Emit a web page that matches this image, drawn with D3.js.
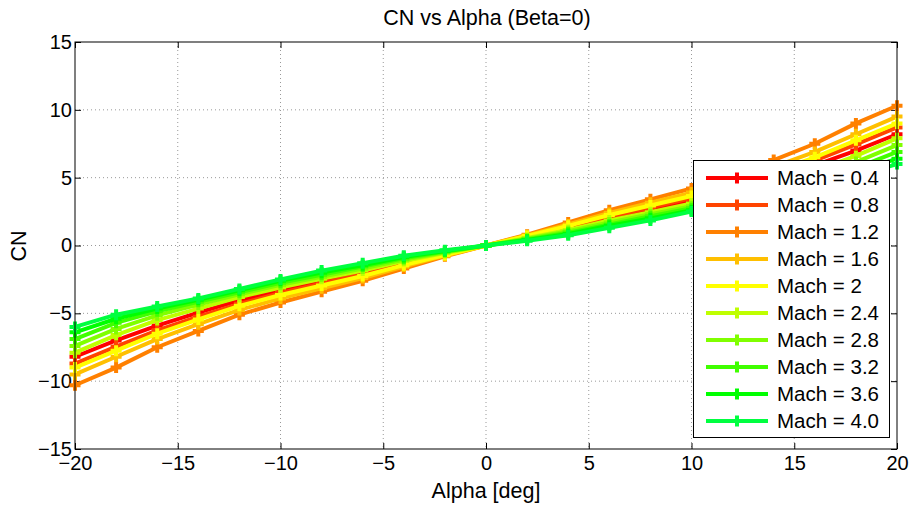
<!DOCTYPE html>
<html><head><meta charset="utf-8">
<script src="https://cdn.jsdelivr.net/npm/d3@7"></script>
<style>body{margin:0;background:#fff}svg{display:block}text{font-family:"Liberation Sans",Arial,sans-serif}</style>
</head><body><svg id="c" width="914" height="506"></svg>
<script>
const alpha = [-20,-18,-16,-14,-12,-10,-8,-6,-4,-2,0,2,4,6,8,10,12,14,16,18,20];
const machLabels = ["Mach = 0.4","Mach = 0.8","Mach = 1.2","Mach = 1.6","Mach = 2","Mach = 2.4","Mach = 2.8","Mach = 3.2","Mach = 3.6","Mach = 4.0"];
const colors = ["#ff0000","#ff4400","#ff8000","#ffbf00","#ffff00","#bfff00","#80ff00","#40ff00","#00ff00","#00ff40"];
const cn04 = [-8.2,-7.0,-5.9,-4.95,-4.05,-3.3,-2.65,-2.0,-1.3,-0.6,0,0.6,1.3,2.0,2.65,3.3,4.05,4.95,5.9,7.0,8.2];
const cn08 = [-8.7,-7.45,-6.25,-5.25,-4.3,-3.5,-2.8,-2.1,-1.35,-0.65,0,0.65,1.35,2.1,2.8,3.5,4.3,5.25,6.25,7.45,8.7];
const cn12 = [-10.3,-9.0,-7.5,-6.3,-5.1,-4.2,-3.4,-2.6,-1.7,-0.8,0,0.8,1.7,2.6,3.4,4.2,5.1,6.3,7.5,9.0,10.3];
const cn16 = [-9.5,-8.2,-6.9,-5.8,-4.75,-3.9,-3.15,-2.4,-1.55,-0.75,0,0.75,1.55,2.4,3.15,3.9,4.75,5.8,6.9,8.2,9.5];
const cn20 = [-9.0,-7.75,-6.5,-5.45,-4.45,-3.65,-2.95,-2.25,-1.45,-0.7,0,0.7,1.45,2.25,2.95,3.65,4.45,5.45,6.5,7.75,9.0];
const cn24 = [-7.9,-6.6,-5.5,-4.65,-3.8,-3.1,-2.45,-1.85,-1.15,-0.55,0,0.55,1.15,1.85,2.45,3.1,3.8,4.65,5.5,6.6,7.9];
const cn28 = [-7.4,-6.15,-5.15,-4.35,-3.6,-2.9,-2.3,-1.7,-1.05,-0.5,0,0.5,1.05,1.7,2.3,2.9,3.6,4.35,5.15,6.15,7.4];
const cn32 = [-6.9,-5.7,-4.85,-4.15,-3.45,-2.75,-2.15,-1.55,-0.95,-0.45,0,0.45,0.95,1.55,2.15,2.75,3.45,4.15,4.85,5.7,6.9];
const cn36 = [-6.4,-5.4,-4.65,-4.0,-3.3,-2.6,-2.0,-1.45,-0.85,-0.4,0,0.4,0.85,1.45,2.0,2.6,3.3,4.0,4.65,5.4,6.4];
const cn40 = [-6.0,-5.1,-4.5,-3.9,-3.2,-2.5,-1.85,-1.3,-0.75,-0.35,0,0.35,0.75,1.3,1.85,2.5,3.2,3.9,4.5,5.1,6.0];
const series = [cn04,cn08,cn12,cn16,cn20,cn24,cn28,cn32,cn36,cn40];
const xTicks = [-20,-15,-10,-5,0,5,10,15,20];
const yTicks = [-15,-10,-5,0,5,10,15];

const svg = d3.select("#c");
const L=75,R=897,T=42,B=449;
const x = d3.scaleLinear().domain([-20,20]).range([L,R]);
const y = d3.scaleLinear().domain([-15,15]).range([B,T]);
const fmt = d => d<0 ? "\u2212"+Math.abs(d) : ""+d;

// grid
const g = svg.append("g");
g.selectAll(".gx").data(xTicks.slice(1,-1)).join("line")
 .attr("x1",d=>x(d)).attr("x2",d=>x(d)).attr("y1",T).attr("y2",B)
 .attr("stroke","#999").attr("stroke-width",1).attr("stroke-dasharray","1,3");
g.selectAll(".gy").data(yTicks.slice(1,-1)).join("line")
 .attr("y1",d=>y(d)).attr("y2",d=>y(d)).attr("x1",L).attr("x2",R)
 .attr("stroke","#999").attr("stroke-width",1).attr("stroke-dasharray","1,3");

// axes ticks inward
const axB = d3.axisBottom(x).tickValues(xTicks).tickSize(-6).tickPadding(7).tickFormat(fmt);
const axT = d3.axisTop(x).tickValues(xTicks).tickSize(-6).tickFormat("");
const axL = d3.axisLeft(y).tickValues(yTicks).tickSize(-6).tickPadding(3).tickFormat(fmt);
const axR = d3.axisRight(y).tickValues(yTicks).tickSize(-6).tickFormat("");
function style(sel){sel.select(".domain").remove();sel.selectAll("line").attr("stroke","#000");sel.selectAll("text").attr("font-size",20).attr("fill","#000").attr("font-family","Liberation Sans, Arial, sans-serif");}
svg.append("g").attr("transform",`translate(0,${B})`).call(axB).call(style);
svg.append("g").attr("transform",`translate(0,${T})`).call(axT).call(style);
svg.append("g").attr("transform",`translate(${L},0)`).call(axL).call(style);
svg.append("g").attr("transform",`translate(${R},0)`).call(axR).call(style);

// lines
const line = d3.line().x((d,i)=>x(alpha[i])).y(d=>y(d));
const plus = s => `M${-s},0H${s}M0,${-s}V${s}`;
series.forEach((s,k)=>{
  const gs = svg.append("g");
  gs.append("path").datum(s).attr("d",line).attr("fill","none").attr("stroke",colors[k]).attr("stroke-width",4).attr("stroke-linejoin","round");
  gs.selectAll("path.m").data(s).join("path").attr("class","m")
   .attr("transform",(d,i)=>`translate(${x(alpha[i])},${y(d)})`).attr("d",plus(5.5))
   .attr("stroke",colors[k]).attr("stroke-width",4).attr("fill","none");
});

// frame
svg.append("rect").attr("x",L).attr("y",T).attr("width",R-L).attr("height",B-T).attr("fill","none").attr("stroke","#000").attr("stroke-width",1);

// legend
const lg = svg.append("g");
lg.append("rect").attr("x",693.5).attr("y",160.5).attr("width",196).attr("height",277).attr("fill","#fff").attr("stroke","#000").attr("stroke-width",1);
machLabels.forEach((lab,k)=>{
  const yy = 178 + k*27;
  lg.append("line").attr("x1",706).attr("x2",768).attr("y1",yy).attr("y2",yy).attr("stroke",colors[k]).attr("stroke-width",4);
  lg.append("path").attr("transform",`translate(737,${yy})`).attr("d",plus(5.5)).attr("stroke",colors[k]).attr("stroke-width",4);
  lg.append("text").attr("x",777).attr("y",yy+7).attr("font-size",20.5).text(lab);
});

// titles
svg.append("text").attr("x",487).attr("y",25).attr("text-anchor","middle").attr("font-size",21.5).text("CN vs Alpha (Beta=0)");
svg.append("text").attr("x",486).attr("y",498).attr("text-anchor","middle").attr("font-size",21.5).text("Alpha [deg]");
svg.append("text").attr("transform","translate(26,246) rotate(-90)").attr("text-anchor","middle").attr("font-size",21.5).text("CN");
</script></body></html>
